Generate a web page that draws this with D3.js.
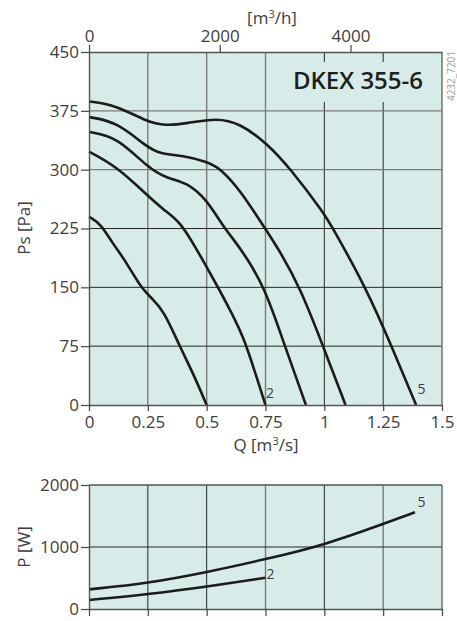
<!DOCTYPE html>
<html><head><meta charset="utf-8">
<script src="https://cdn.jsdelivr.net/npm/d3@7"></script>
<style>
html,body{margin:0;padding:0;background:#fff;}
svg{display:block;font-family:"Open Sans",sans-serif;}
</style></head>
<body><svg id="c" width="457" height="621"></svg>
<script>
// ---- data ----
const qTicks = [0, 0.25, 0.5, 0.75, 1, 1.25, 1.5];
const psTicks = [0, 75, 150, 225, 300, 375, 450];
const flowTicks = [0, 2000, 4000];
const powerTicks = [0, 1000, 2000];
const title = "DKEX 355-6";
const drawingNo = "4232_7201";

const ps1Q = [0, 0.05, 0.1, 0.153, 0.217, 0.27, 0.316, 0.387, 0.443, 0.5];
const ps1P = [240, 231, 206, 185, 151, 135, 121, 74, 40, 0];
const ps2Q = [0, 0.118, 0.245, 0.316, 0.387, 0.458, 0.5, 0.55, 0.6, 0.656, 0.7, 0.75];
const ps2P = [323, 304, 268, 249, 234, 198, 176, 149, 121, 87, 47, 0];
const ps3Q = [0, 0.118, 0.252, 0.33, 0.415, 0.5, 0.571, 0.649, 0.748, 0.833, 0.922];
const ps3P = [348, 342, 302, 289, 284, 262, 227, 198, 150, 74, 0];
const ps4Q = [0, 0.118, 0.245, 0.302, 0.4, 0.5, 0.557, 0.642, 0.748, 0.807, 0.897, 0.996, 1.09];
const ps4P = [367, 361, 329, 320, 318, 310, 302, 274, 225, 198, 150, 74, 0];
const ps5Q = [0, 0.118, 0.245, 0.326, 0.415, 0.542, 0.642, 0.755, 0.854, 1.0, 1.037, 1.176, 1.286, 1.39];
const ps5P = [387, 382, 361, 356, 359, 366, 359, 334, 302, 244, 225, 150, 75, 0];

const pw2Q = [0, 0.25, 0.5, 0.75];
const pw2W = [145, 237, 360, 505];
const pw5Q = [0, 0.25, 0.5, 0.75, 1.0, 1.25, 1.385];
const pw5W = [317, 414, 592, 802, 1032, 1371, 1560];

// ---- layout ----
const svg = d3.select("#c");
const L = 89, R = 442;
const x = d3.scaleLinear([0, 1.5], [L, R]);
const xh = d3.scaleLinear([0, 1.5 * 3600], [L, R]);
const y = d3.scaleLinear([0, 450], [405, 52]);
const yw = d3.scaleLinear([0, 2000], [609, 485]);
const BG = "#d7ece8";
const TXT = "#3d3d3d";
const GREY = "#7b7b7b", DARK = "#262626";

function zip(a, b) { return a.map((v, i) => [v, b[i]]); }

// ===== top chart =====
svg.append("rect").attr("x", L).attr("y", y(450)).attr("width", R - L).attr("height", y(0) - y(450)).attr("fill", BG);
const gv = svg.append("g");
qTicks.filter(d => d > 0 && d < 1.5).forEach(d => {
  gv.append("line").attr("x1", x(d)).attr("x2", x(d)).attr("y1", y(450)).attr("y2", y(0))
    .attr("stroke", d < 1 ? GREY : DARK).attr("stroke-width", d < 1 ? 1.4 : 1);
});
psTicks.filter(d => d > 0 && d < 450).forEach(d => {
  gv.append("line").attr("x1", L).attr("x2", R).attr("y1", y(d)).attr("y2", y(d))
    .attr("stroke", d > 250 ? GREY : DARK).attr("stroke-width", d > 250 ? 1.4 : 1);
});
// title box
svg.append("rect").attr("x", 282).attr("y", 62).attr("width", R - 282 - 1).attr("height", 40).attr("fill", BG);
svg.append("text").attr("x", 423).attr("y", 88.5).attr("text-anchor", "end")
  .attr("font-size", 24).attr("font-weight", 600).attr("fill", "#1e1e1e").text(title);

// curves
const line = d3.line().x(d => x(d[0])).y(d => y(d[1])).curve(d3.curveBasis);
[[ps1Q, ps1P], [ps2Q, ps2P], [ps3Q, ps3P], [ps4Q, ps4P], [ps5Q, ps5P]].forEach(([q, p]) => {
  svg.append("path").attr("d", line(zip(q, p))).attr("fill", "none").attr("stroke", "#1b1b1b").attr("stroke-width", 2.6);
});

svg.append("line").attr("x1", R).attr("x2", R).attr("y1", y(450)).attr("y2", y(0)).attr("stroke", "#6a6a6a").attr("stroke-width", 1.4);

function styleAxis(g, fs) {
  g.selectAll("path.domain").attr("stroke", "#555").attr("stroke-width", 1.4);
  g.selectAll(".tick line").attr("stroke", "#444").attr("stroke-width", 1.2);
  g.selectAll(".tick text").attr("fill", TXT).attr("font-size", fs).attr("font-family", "Open Sans, sans-serif");
}
const axL = svg.append("g").attr("transform", `translate(${L},0)`)
  .call(d3.axisLeft(y).tickValues(psTicks).tickSize(8).tickSizeOuter(0).tickPadding(2));
styleAxis(axL, 17);
const axB = svg.append("g").attr("transform", `translate(0,${y(0)})`)
  .call(d3.axisBottom(x).tickValues(qTicks).tickSize(6).tickSizeOuter(0).tickPadding(5).tickFormat(d => String(d)));
styleAxis(axB, 17);
const axT = svg.append("g").attr("transform", `translate(0,${y(450)})`)
  .call(d3.axisTop(xh).tickValues(flowTicks).tickSize(7).tickSizeOuter(0).tickPadding(3).tickFormat(d3.format("d")));
styleAxis(axT, 17);

// axis titles
svg.append("text").attr("x", 272).attr("y", 24).attr("text-anchor", "middle").attr("font-size", 17).attr("fill", TXT)
  .call(t => { t.append("tspan").text("[m"); t.append("tspan").attr("font-size", 11).attr("dy", -6).text("3"); t.append("tspan").attr("dy", 6).text("/h]"); });
svg.append("text").attr("x", 266).attr("y", 451).attr("text-anchor", "middle").attr("font-size", 17).attr("fill", TXT)
  .call(t => { t.append("tspan").text("Q [m"); t.append("tspan").attr("font-size", 11).attr("dy", -6).text("3"); t.append("tspan").attr("dy", 6).text("/s]"); });
svg.append("text").attr("transform", "translate(30,228) rotate(-90)").attr("text-anchor", "middle")
  .attr("font-size", 17).attr("fill", TXT).text("Ps [Pa]");
svg.append("text").attr("transform", "translate(455,76) rotate(-90)").attr("text-anchor", "middle")
  .attr("font-size", 10).attr("fill", "#9a9a9a").text(drawingNo);

svg.append("text").attr("x", 266).attr("y", 398).attr("font-size", 14).attr("fill", TXT).text("2");
svg.append("text").attr("x", 417.5).attr("y", 394).attr("font-size", 14).attr("fill", TXT).text("5");

// ===== bottom chart =====
svg.append("rect").attr("x", L).attr("y", yw(2000)).attr("width", R - L).attr("height", yw(0) - yw(2000)).attr("fill", BG);
qTicks.filter(d => d > 0 && d < 1.5).forEach(d => {
  const grey = d === 0.75 || d === 1.25;
  svg.append("line").attr("x1", x(d)).attr("x2", x(d)).attr("y1", yw(2000)).attr("y2", yw(0))
    .attr("stroke", grey ? GREY : DARK).attr("stroke-width", grey ? 1.4 : 1);
});
svg.append("line").attr("x1", L).attr("x2", R).attr("y1", yw(1000)).attr("y2", yw(1000)).attr("stroke", DARK).attr("stroke-width", 1);
const lineW = d3.line().x(d => x(d[0])).y(d => yw(d[1])).curve(d3.curveBasis);
[[pw2Q, pw2W], [pw5Q, pw5W]].forEach(([q, w]) => {
  svg.append("path").attr("d", lineW(zip(q, w))).attr("fill", "none").attr("stroke", "#1b1b1b").attr("stroke-width", 2.6);
});
svg.append("line").attr("x1", R).attr("x2", R).attr("y1", yw(2000)).attr("y2", yw(0)).attr("stroke", "#6a6a6a").attr("stroke-width", 1.4);
svg.append("line").attr("x1", L).attr("x2", R).attr("y1", yw(2000)).attr("y2", yw(2000)).attr("stroke", "#555").attr("stroke-width", 1.4);
const axL2 = svg.append("g").attr("transform", `translate(${L},0)`)
  .call(d3.axisLeft(yw).tickValues(powerTicks).tickSize(8).tickSizeOuter(0).tickPadding(2).tickFormat(d3.format("d")));
styleAxis(axL2, 17);
const axB2 = svg.append("g").attr("transform", `translate(0,${yw(0)})`)
  .call(d3.axisBottom(x).tickValues(qTicks).tickSize(7).tickSizeOuter(0).tickFormat(""));
styleAxis(axB2, 17);
svg.append("text").attr("transform", "translate(30,547) rotate(-90)").attr("text-anchor", "middle")
  .attr("font-size", 17).attr("fill", TXT).text("P [W]");
svg.append("text").attr("x", 266.5).attr("y", 579).attr("font-size", 14).attr("fill", TXT).text("2");
svg.append("text").attr("x", 417.5).attr("y", 507).attr("font-size", 14).attr("fill", TXT).text("5");
</script></body></html>
